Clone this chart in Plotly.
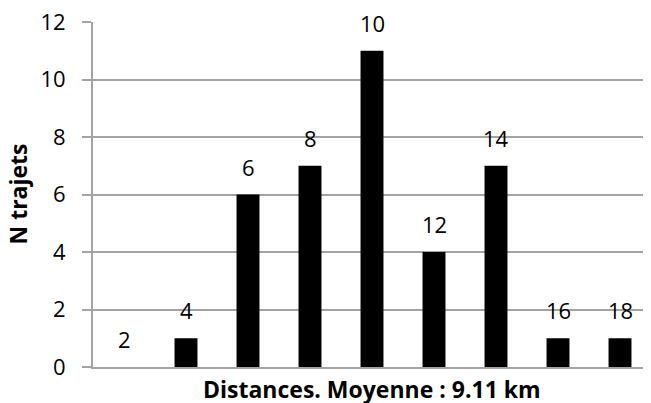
import plotly.graph_objects as go

categories = ["2", "4", "6", "8", "10", "12", "14", "16", "18"]
counts = [0, 1, 6, 7, 11, 4, 7, 1, 1]
y_ticks = [0, 2, 4, 6, 8, 10, 12]
x_title = "Distances. Moyenne : 9.11 km"
y_title = "N trajets"

FONT = "Open Sans, Liberation Sans, sans-serif"
GRID = "#a3a3a3"

# page has an 8px body margin; figure sized to fit the 651x403 window
W, H = 643, 395
ML, MR, MT, MB = 85, 0, 14, 36
plot_w = W - ML - MR

fig = go.Figure()
fig.add_trace(go.Bar(
    x=categories, y=counts, width=0.37,
    marker=dict(color="black", line=dict(width=0)),
    showlegend=False, hoverinfo="skip",
))

for i, (c, v) in enumerate(zip(categories, counts)):
    fig.add_annotation(x=i, y=v, text=c, showarrow=False, yanchor="middle",
                       yshift=28, font=dict(family=FONT, size=22, color="black"))

# axis titles
fig.add_annotation(xref="paper", yref="paper", x=0.5, y=0, yanchor="middle",
                   yshift=-22, text=x_title, showarrow=False,
                   font=dict(family=FONT, size=23, color="black", weight="bold"))
fig.add_annotation(xref="paper", yref="paper", x=(9 - ML) / plot_w, y=0.5,
                   xanchor="center", yanchor="middle", textangle=-90,
                   text=y_title, showarrow=False,
                   font=dict(family=FONT, size=23, color="black", weight="bold"))

fig.update_layout(
    width=W, height=H,
    margin=dict(l=ML, r=MR, t=MT, b=MB, autoexpand=False),
    plot_bgcolor="white", paper_bgcolor="white",
    xaxis=dict(
        type="category", categoryorder="array", categoryarray=categories,
        range=[-0.5, len(categories) - 0.5],
        showticklabels=False, ticks="", showgrid=False,
        showline=True, linecolor=GRID, linewidth=2,
        zeroline=False, automargin=False,
    ),
    yaxis=dict(
        range=[0, 12], tickvals=y_ticks, ticktext=[str(t) for t in y_ticks],
        showgrid=True, gridcolor=GRID, gridwidth=2,
        showline=True, linecolor=GRID, linewidth=2,
        ticks="outside", ticklen=9, tickcolor=GRID, tickwidth=2,
        ticklabelstandoff=12, ticklabeloverflow="allow",
        tickfont=dict(family=FONT, size=22, color="black"),
        zeroline=False, automargin=False,
    ),
)

fig.write_html("out.html")
